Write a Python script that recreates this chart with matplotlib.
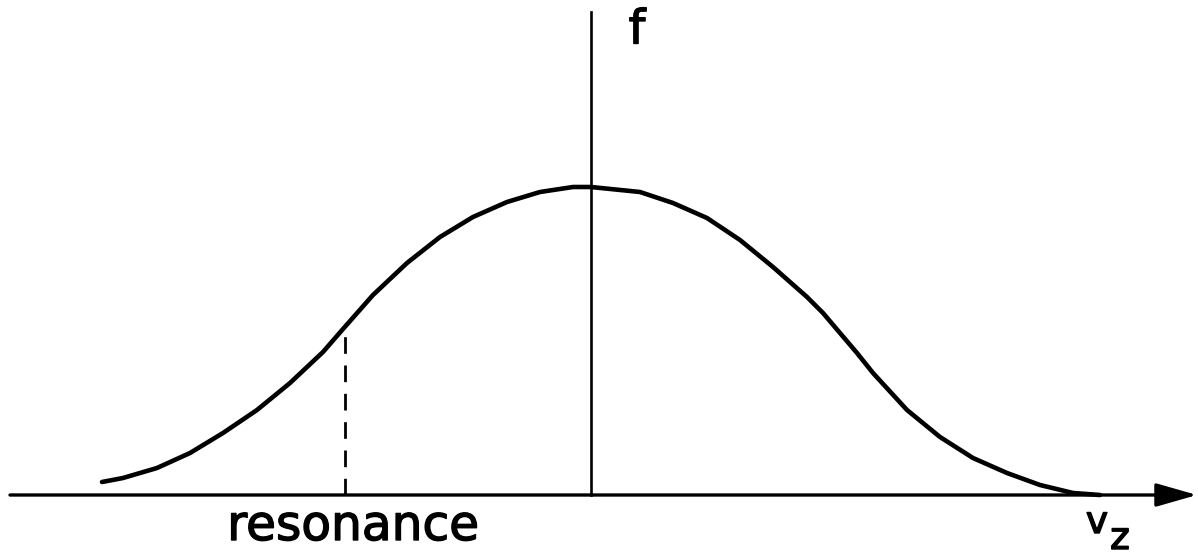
import matplotlib

matplotlib.use("Agg")
import matplotlib.pyplot as plt
import matplotlib.patheffects as pe

# curve (v along the axis, f height), peak at v = 0
v_left = [-4.89, -4.68, -4.34, -4.01, -3.68, -3.34, -3.01, -2.68, -2.48,
          -2.18, -1.84, -1.51, -1.18, -0.84, -0.51, -0.18, 0.0]
f_left = [0.13, 0.17, 0.27, 0.42, 0.62, 0.85, 1.12, 1.43, 1.66,
          2.00, 2.32, 2.58, 2.78, 2.93, 3.03, 3.08, 3.08]
v_right = [0.49, 0.82, 1.16, 1.49, 1.82, 2.16, 2.32, 2.49, 2.66,
           2.82, 3.16, 3.49, 3.82, 4.16, 4.49, 4.82, 5.09]
f_right = [3.03, 2.92, 2.77, 2.55, 2.28, 1.98, 1.82, 1.62, 1.42,
           1.22, 0.85, 0.58, 0.37, 0.22, 0.10, 0.02, 0.0]

v_res = -2.46
f_res = 1.62

axis_v = [-5.81, 6.06]
f_axis_top = 4.83

fig = plt.figure(figsize=(11.98, 5.55), dpi=100)
ax = fig.add_axes([0, 0, 1, 1])
ax.set_xlim(-5.91, 6.07)
ax.set_ylim(-0.60, 4.95)
ax.axis("off")

v = v_left + v_right
f = f_left + f_right
ax.plot(v, f, color="black", lw=3.3, solid_joinstyle="round", solid_capstyle="round")

# horizontal axis with arrow
ax.annotate(
    "",
    xy=(axis_v[1], 0),
    xytext=(axis_v[0], 0),
    arrowprops=dict(
        arrowstyle="-|>,head_length=1.26,head_width=0.36",
        mutation_scale=20,
        lw=2.4,
        color="black",
        shrinkA=0,
        shrinkB=0,
    ),
)

# vertical f axis
ax.plot([0, 0], [0, f_axis_top], color="black", lw=1.9)

# resonance marker
ax.plot([v_res, v_res], [0, f_res], color="black", lw=2.0, linestyle=(0, (6.0, 4.2)))

bold = [pe.withStroke(linewidth=1.0, foreground="black")]
ax.text(0.46, 4.64, "f", fontsize=34, ha="center", va="center", path_effects=bold)
ax.text(v_res + 0.08, -0.31, "resonance", fontsize=35, ha="center", va="center",
        path_effects=bold)
ax.text(5.06, -0.28, "v", fontsize=27, ha="center", va="center", path_effects=bold)
ax.text(5.29, -0.44, "z", fontsize=27, ha="center", va="center", path_effects=bold)

fig.savefig("out.png", dpi=100)
